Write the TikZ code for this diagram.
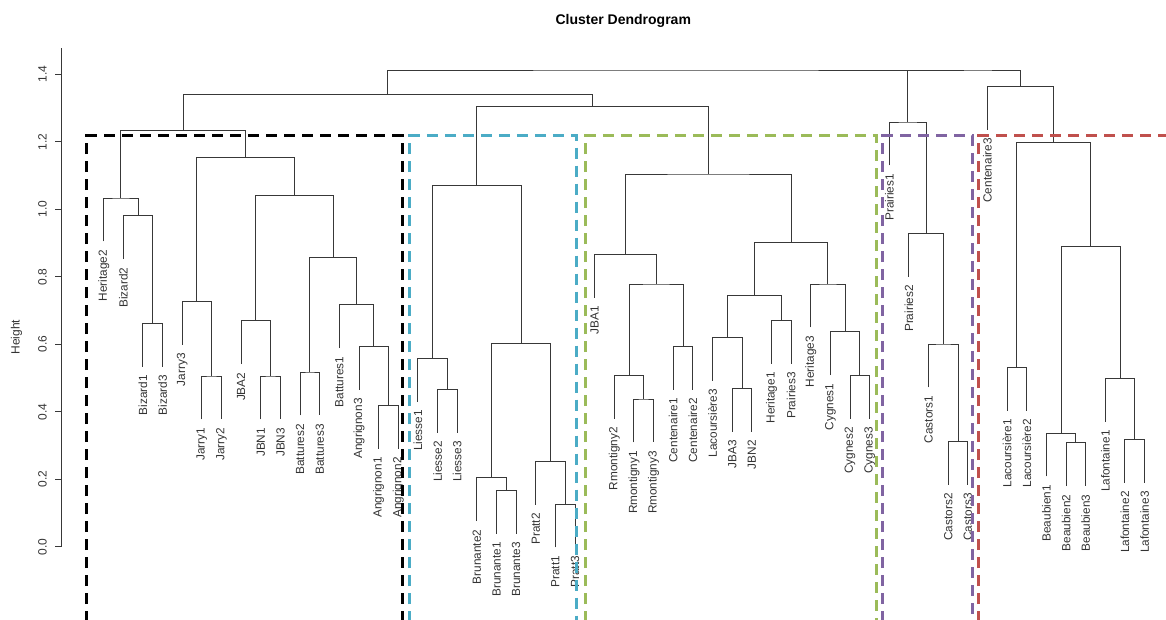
\documentclass[tikz,border=0pt]{standalone}
\usepackage{fontspec}
\setmainfont{Liberation Sans}
\usetikzlibrary{calc}
\definecolor{cblue}{HTML}{4BACC6}
\definecolor{cgreen}{HTML}{9BBB59}
\definecolor{cpurple}{HTML}{8064A2}
\definecolor{cred}{HTML}{C0504D}
\newcommand\leafnode[4]{%
  \coordinate (#1) at ({103.7+(#2-1)*19.64},{#3+43.3});
  \node[leaflabel] (t#1) at ({103.7+(#2-1)*19.64},{#3+43.3+8.5}) {#4};
}
\newcommand\mergenode[4]{%
  \coordinate (tmpmid) at ($(#2)!0.5!(#3)$);
  \coordinate (tmph) at (0,#4);
  \coordinate (#1) at (tmpmid |- tmph);
  \draw[tree] (#2) |- (#1) -| (#3);
}
\begin{document}
\begin{tikzpicture}[x=1pt,y=-1pt,
  tree/.style={draw=black!78,line width=1pt},
  leaflabel/.style={rotate=90,anchor=east,inner sep=0pt,text=black!80,font=\fontsize{11.8}{12}\selectfont},
  ticklabel/.style={rotate=90,inner sep=0pt,text=black!80,font=\fontsize{12}{13}\selectfont},
  dashrect/.style={line width=2.6pt,dash pattern=on 11pt off 7pt}]
\useasboundingbox (0,0) rectangle (1166,619);
% title
\node[font=\bfseries\fontsize{14}{16}\selectfont] (title) at (623.3,20.7) {Cluster Dendrogram};
% axis
\coordinate (axtop) at (61.7,48.3);
\coordinate (axbot) at (61.7,546.7);
\draw[black!78,line width=1pt] (axtop) -- (axbot);
\foreach \h/\t in {0/0.0,1/0.2,2/0.4,3/0.6,4/0.8,5/1.0,6/1.2,7/1.4}{
  \coordinate (tk\h) at (61.7,{546.7-67.5*\h});
  \draw[black!78,line width=1pt] (tk\h) -- ++(-6.7,0);
  \node[ticklabel] (tl\h) at (42.5,{546.7-67.5*\h}) {\t};
}
\node[ticklabel] (ylab) at (16.5,337) {Height};
% leaves
\leafnode{heritageII}{1}{198}{Heritage2}
\leafnode{bizardII}{2}{215.7}{Bizard2}
\leafnode{bizardI}{3}{323.3}{Bizard1}
\leafnode{bizardIII}{4}{323.3}{Bizard3}
\leafnode{jarryIII}{5}{301.3}{Jarry3}
\leafnode{jarryI}{6}{376}{Jarry1}
\leafnode{jarryII}{7}{376}{Jarry2}
\leafnode{jbaII}{8}{320.7}{JBA2}
\leafnode{jbnI}{9}{376}{JBN1}
\leafnode{jbnIII}{10}{376}{JBN3}
\leafnode{batII}{11}{372}{Battures2}
\leafnode{batIII}{12}{372}{Battures3}
\leafnode{batI}{13}{304.7}{Battures1}
\leafnode{angIII}{14}{346.3}{Angrignon3}
\leafnode{angI}{15}{405.3}{Angrignon1}
\leafnode{angII}{16}{405.3}{Angrignon2}
\leafnode{liI}{17}{358.3}{Liesse1}
\leafnode{liII}{18}{389.3}{Liesse2}
\leafnode{liIII}{19}{389.3}{Liesse3}
\leafnode{brII}{20}{477.7}{Brunante2}
\leafnode{brI}{21}{490.3}{Brunante1}
\leafnode{brIII}{22}{490.3}{Brunante3}
\leafnode{prII}{23}{461.3}{Pratt2}
\leafnode{prI}{24}{504}{Pratt1}
\leafnode{prIII}{25}{504}{Pratt3}
\leafnode{jbaI}{26}{254.3}{JBA1}
\leafnode{rmII}{27}{375.3}{Rmontigny2}
\leafnode{rmI}{28}{399}{Rmontigny1}
\leafnode{rmIII}{29}{399}{Rmontigny3}
\leafnode{ceI}{30}{346.3}{Centenaire1}
\leafnode{ceII}{31}{346.3}{Centenaire2}
\leafnode{lacIII}{32}{337.3}{Lacoursière3}
\leafnode{jbaIII}{33}{388.3}{JBA3}
\leafnode{jbnII}{34}{388.3}{JBN2}
\leafnode{heritageI}{35}{320.3}{Heritage1}
\leafnode{praIII}{36}{320.3}{Prairies3}
\leafnode{heritageIII}{37}{284}{Heritage3}
\leafnode{cyI}{38}{331.7}{Cygnes1}
\leafnode{cyII}{39}{375.3}{Cygnes2}
\leafnode{cyIII}{40}{375.3}{Cygnes3}
\leafnode{praI}{41}{122}{Prairies1}
\leafnode{praII}{42}{233.3}{Prairies2}
\leafnode{caI}{43}{344}{Castors1}
\leafnode{caII}{44}{441.3}{Castors2}
\leafnode{caIII}{45}{441.3}{Castors3}
\leafnode{ceIII}{46}{86.3}{Centenaire3}
\leafnode{lacI}{47}{367.3}{Lacoursière1}
\leafnode{lacII}{48}{367.3}{Lacoursière2}
\leafnode{beI}{49}{433}{Beaubien1}
\leafnode{beII}{50}{442.7}{Beaubien2}
\leafnode{beIII}{51}{442.7}{Beaubien3}
\leafnode{lfI}{52}{378.3}{Lafontaine1}
\leafnode{lfII}{53}{439.3}{Lafontaine2}
\leafnode{lfIII}{54}{439.3}{Lafontaine3}
% black cluster
\mergenode{bz13}{bizardI}{bizardIII}{323.3}
\mergenode{bz}{bizardII}{bz13}{215.7}
\mergenode{hb}{heritageII}{bz}{198}
\mergenode{j12}{jarryI}{jarryII}{376}
\mergenode{jj}{jarryIII}{j12}{301.3}
\mergenode{jn13}{jbnI}{jbnIII}{376}
\mergenode{jb}{jbaII}{jn13}{320.7}
\mergenode{bt23}{batII}{batIII}{372}
\mergenode{an12}{angI}{angII}{405.3}
\mergenode{an}{angIII}{an12}{346.3}
\mergenode{bta}{batI}{an}{304.7}
\mergenode{btx}{bt23}{bta}{257.7}
\mergenode{jbb}{jb}{btx}{195.7}
\mergenode{jjb}{jj}{jbb}{157.3}
\mergenode{blk}{hb}{jjb}{130.7}
% blue cluster
\mergenode{li23}{liII}{liIII}{389.3}
\mergenode{li}{liI}{li23}{358.3}
\mergenode{br13}{brI}{brIII}{490.3}
\mergenode{br}{brII}{br13}{477.7}
\mergenode{pr13}{prI}{prIII}{504}
\mergenode{pr}{prII}{pr13}{461.3}
\mergenode{bp}{br}{pr}{343.3}
\mergenode{blu}{li}{bp}{185.3}
% green cluster
\mergenode{rm13}{rmI}{rmIII}{399}
\mergenode{rm}{rmII}{rm13}{375.3}
\mergenode{ce12}{ceI}{ceII}{346.3}
\mergenode{rc}{rm}{ce12}{284}
\mergenode{ga}{jbaI}{rc}{254.3}
\mergenode{jj32}{jbaIII}{jbnII}{388.3}
\mergenode{lj}{lacIII}{jj32}{337.3}
\mergenode{hp}{heritageI}{praIII}{320.3}
\mergenode{ljhp}{lj}{hp}{295.3}
\mergenode{cy23}{cyII}{cyIII}{375.3}
\mergenode{cy}{cyI}{cy23}{331.7}
\mergenode{hc}{heritageIII}{cy}{284}
\mergenode{gb}{ljhp}{hc}{242.3}
\mergenode{grn}{ga}{gb}{174}
\mergenode{bg}{blu}{grn}{106.3}
\mergenode{lefttree}{blk}{bg}{94.3}
% purple cluster
\mergenode{cs23}{caII}{caIII}{441.3}
\mergenode{cs}{caI}{cs23}{344}
\mergenode{pc}{praII}{cs}{233.3}
\mergenode{pur}{praI}{pc}{122}
% red cluster
\mergenode{la12}{lacI}{lacII}{367.3}
\mergenode{be23}{beII}{beIII}{442.7}
\mergenode{be}{beI}{be23}{433}
\mergenode{lf23}{lfII}{lfIII}{439.3}
\mergenode{lf}{lfI}{lf23}{378.3}
\mergenode{blf}{be}{lf}{246.3}
\mergenode{lbl}{la12}{blf}{142.3}
\mergenode{redt}{ceIII}{lbl}{86.3}
% top
\mergenode{righttree}{pur}{redt}{70}
\mergenode{roottree}{lefttree}{righttree}{70}
% cluster rectangles
\begin{scope}
\clip (0,0) rectangle (1166,619);
\coordinate (rkA) at (86.7,640);   \coordinate (rkB) at (402.3,135.5);
\coordinate (rbA) at (409.3,640);  \coordinate (rbB) at (576.7,135.5);
\coordinate (rgA) at (585.3,640);  \coordinate (rgB) at (876.3,135.5);
\coordinate (rpA) at (882.7,640);  \coordinate (rpB) at (972.3,135.5);
\coordinate (rrA) at (978.7,640);  \coordinate (rrB) at (1190,135.5);
\draw[dashrect,black] (rkA) rectangle (rkB);
\draw[dashrect,cblue] (rbA) rectangle (rbB);
\draw[dashrect,cgreen] (rgA) rectangle (rgB);
\draw[dashrect,cpurple] (rpA) rectangle (rpB);
\draw[dashrect,cred] (rrA) rectangle (rrB);
\end{scope}
\end{tikzpicture}
\end{document}
